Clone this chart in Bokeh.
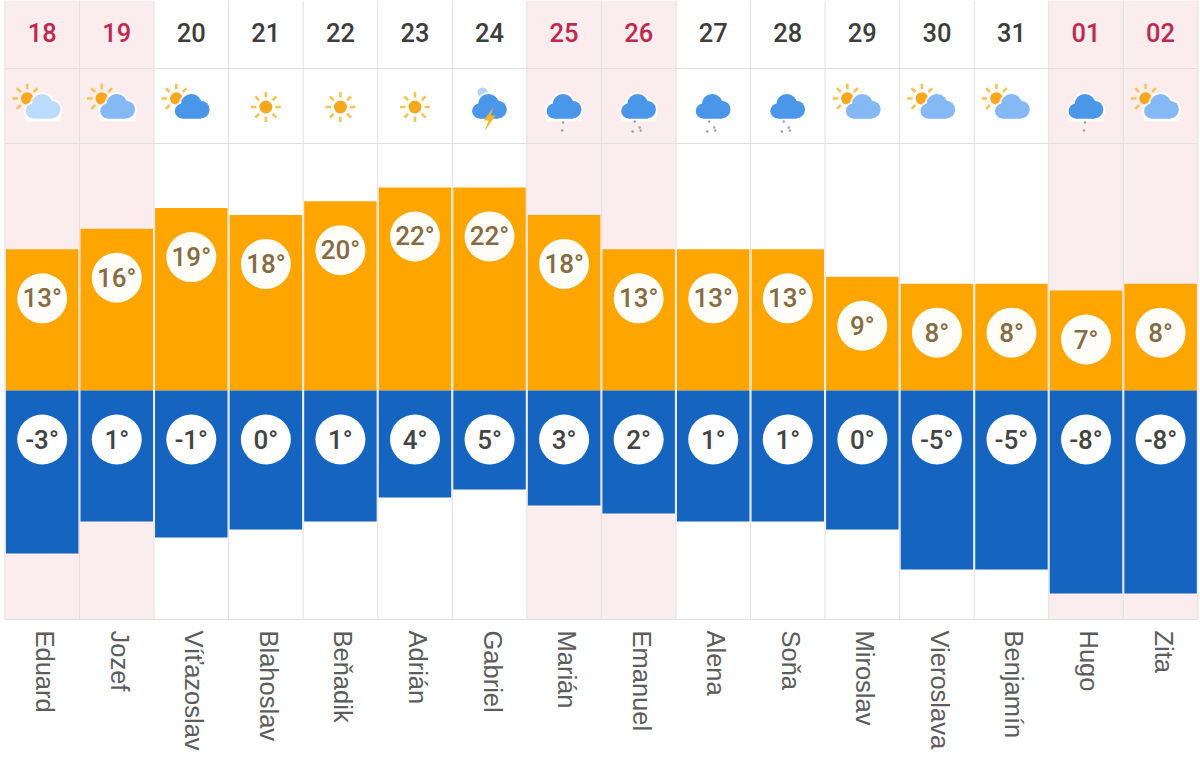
import math
from bokeh.plotting import figure
from bokeh.models import Range1d
from bokeh.core.properties import value
from bokeh.embed import file_html
from bokeh.resources import INLINE

days = ["18","19","20","21","22","23","24","25","26","27","28","29","30","31","01","02"]
names = ["Eduard","Jozef","Víťazoslav","Blahoslav","Beňadik","Adrián","Gabriel","Marián",
         "Emanuel","Alena","Soňa","Miroslav","Vieroslava","Benjamín","Hugo","Zita"]
highs = [13,16,19,18,20,22,22,18,13,13,13,9,8,8,7,8]
lows = [-3,1,-1,0,1,4,5,3,2,1,1,0,-5,-5,-8,-8]
weekend = [1,1,0,0,0,0,0,1,1,0,0,0,0,0,1,1]
icons = ["p_light","p_mid","p_dark","sun","sun","sun","storm","rain2","rain4","rain4","rain4",
         "p_mid","p_mid","p_mid","rain2","p_mid"]

W, H = 1200, 760
COL = 74.56
LEFT = 4.4
ZERO = 390.0
n = len(days)

p = figure(width=W, height=H, output_backend="svg", toolbar_location=None,
           x_range=Range1d(-LEFT / COL, (W - LEFT) / COL),
           y_range=Range1d(ZERO - H, ZERO),
           min_border=0, outline_line_color=None, background_fill_color="white",
           border_fill_color="white")
p.xaxis.visible = False
p.yaxis.visible = False
p.grid.visible = False

Y = lambda py: ZERO - py              # page row -> data
DX = 1.0 / COL                        # one pixel in column units
rows = [Y(68), Y(143), Y(619)]
PINK, GRID = "#fbeced", "#e2e0e0"

# weekend columns
we = [i for i in range(n) if weekend[i]]
p.quad(left=we, right=[i + 1 for i in we], top=Y(0), bottom=Y(619), fill_color=PINK, line_color=None)
# grid
p.segment(x0=list(range(n + 1)), x1=list(range(n + 1)), y0=Y(0), y1=Y(619), line_color=GRID, line_width=1)
p.segment(x0=[0] * 3, x1=[n] * 3, y0=rows, y1=rows, line_color=GRID, line_width=1)

# bars
xs = [i + 0.5 for i in range(n)]
hi_min, lo_max = min(highs), max(lows)
hi_h = [100 + (t - hi_min) * 6.87 for t in highs]
lo_h = [99 + (lo_max - t) * 8.0 for t in lows]
p.vbar(x=xs, width=0.972, bottom=0, top=hi_h, fill_color="#ffa500", line_color=None)
p.vbar(x=xs, width=0.972, top=0, bottom=[-h for h in lo_h], fill_color="#1565c0", line_color=None)

# value discs
R = 25
MED = value("Roboto Medium")
p.scatter(xs, [h - 49 for h in hi_h], size=2 * R, marker="circle", fill_color="#fffdf8", line_color=None)
p.scatter(xs, [-49] * n, size=2 * R, marker="circle", fill_color="white", line_color=None)
p.text(xs, [h - 49 for h in hi_h], text=[f"{t}°" for t in highs], text_font=MED,
       text_font_size="26px", text_color="#866c44", text_align="center", text_baseline="middle")
p.text(xs, [-49] * n, text=[f"{t}°" for t in lows], text_font=MED,
       text_font_size="26px", text_color="#444444", text_align="center", text_baseline="middle")

# day numbers
p.text(xs, [Y(32)] * n, text=days, text_font=MED, text_font_size="25.5px",
       text_color=["#bd2a50" if w else "#3d3d3d" for w in weekend],
       text_align="center", text_baseline="middle")

# names
p.text([x + 3 * DX for x in xs], [Y(630)] * n, text=names, angle=-90, angle_units="deg",
       text_font=value("Liberation Sans"), text_font_size="25.5px", text_color="#5c5c5c",
       text_align="left", text_baseline="middle")


def dots(cx, cy, offs, radii, color, alpha=1.0):
    p.scatter([cx + o[0] * DX for o in offs], [cy - o[1] for o in offs], size=[2 * r for r in radii],
              marker="circle", fill_color=color, fill_alpha=alpha, line_color=None)


def cloud(cx, cy, color):
    offs = [(-1, -2), (8.5, 3), (-10, 4.5)]
    rad = [10.5, 8.8, 7.5]
    dots(cx, cy, offs, [r + 2 for r in rad], "#ffffff", 0.7)
    p.quad(left=cx - 18 * DX, right=cx + 18 * DX, top=cy - 3, bottom=cy - 15, fill_color="#ffffff",
           fill_alpha=0.7, line_color=None)
    dots(cx, cy, offs, rad, color)
    p.quad(left=cx - 10 * DX, right=cx + 9 * DX, top=cy - 1, bottom=cy - 12.3, fill_color=color, line_color=None)


def sun(cx, cy, r):
    x0, x1, y0, y1 = [], [], [], []
    for k in range(8):
        a = math.pi * k / 4
        x0.append(cx + (r + 3) * math.cos(a) * DX)
        x1.append(cx + (r + 8.5) * math.cos(a) * DX)
        y0.append(cy + (r + 3) * math.sin(a))
        y1.append(cy + (r + 8.5) * math.sin(a))
    p.segment(x0, y0, x1, y1, line_color="#f6c456", line_width=2.6)
    p.scatter([cx], [cy], size=2 * r, marker="circle", fill_color="#f5a71e", line_color=None)


CLOUDS = {"p_light": "#bcdcff", "p_mid": "#85b9f5", "p_dark": "#4a96e8"}
DARK = "#4a96e8"
for i, kind in enumerate(icons):
    cx = xs[i]
    if kind == "sun":
        sun(cx, Y(106.5), 6.5)
        continue
    if kind in CLOUDS:
        sun(cx - 15 * DX, Y(98), 6.2)
        cloud(cx + 1 * DX, Y(106), CLOUDS[kind])
        continue
    c_y = Y(106)
    if kind == "storm":
        dots(cx, c_y, [(-7, -14)], [5], "#b9d4f2")
    cloud(cx, c_y, DARK)
    if kind == "storm":
        px = [4, -6, -1, -5, 6, 1]
        py = [1, 14, 14, 25, 9, 9]
        p.patch([cx + a * DX for a in px], [c_y - b for b in py], fill_color="#f4b632", line_color=None)
    elif kind == "rain2":
        dots(cx, c_y, [(-1, 16), (-2, 24)], [1.2, 1.3], "#9aa0ab")
    else:
        dots(cx, c_y, [(-4, 15), (-6, 25), (1, 21), (2, 24)], [1.2, 1.3, 1.2, 1.2], "#9aa0ab")

open("out.html", "w").write(file_html(p, INLINE))
